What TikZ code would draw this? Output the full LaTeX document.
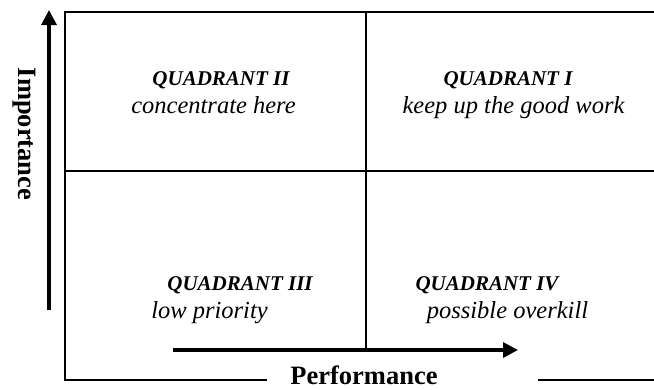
\documentclass[tikz,border=0pt]{standalone}
\usepackage{fontspec}
\setmainfont{Liberation Serif}
\usetikzlibrary{arrows.meta}

\begin{document}
\begin{tikzpicture}[x=1pt, y=-1pt]
    \tikzstyle{frame} = [line width=2.2pt]
    \tikzstyle{axis} = [line width=3.2pt, -{Triangle[width=15pt, length=15pt]}]
    \tikzstyle{title} = [anchor=base, inner sep=0pt, font=\fontsize{21}{25}\selectfont\bfseries\itshape]
    \tikzstyle{remark} = [anchor=base, inner sep=0pt, font=\fontsize{24.5}{28}\selectfont\itshape]
    \tikzstyle{axislabel} = [anchor=base, inner sep=0pt, font=\fontsize{26.5}{30}\selectfont\bfseries]
    \useasboundingbox (0,0) rectangle (654,389);

    % Corners of the grid
    \coordinate (tl) at (65,12);
    \coordinate (tr) at (654,12);
    \coordinate (bl) at (65,380);
    \coordinate (gapl) at (267,380);
    \coordinate (gapr) at (538,380);
    \coordinate (br) at (654,380);
    \coordinate (midt) at (366,12);
    \coordinate (midb) at (366,350);
    \coordinate (midl) at (65,171);
    \coordinate (midr) at (654,171);

    % Axis ends
    \coordinate (imp_start) at (49,310);
    \coordinate (imp_end) at (49,10);
    \coordinate (perf_start) at (173,350);
    \coordinate (perf_end) at (518,350);

    % Frame
    \draw [frame] (gapl) -- (bl) -- (tl) -- (tr);
    \draw [frame] (gapr) -- (br);
    \draw [frame] (midt) -- (midb);
    \draw [frame] (midl) -- (midr);

    % Axes
    \draw [axis] (imp_start) -- (imp_end);
    \draw [axis] (perf_start) -- (perf_end);

    % Axis labels
    \node [axislabel, rotate=-90] (importance) at (18,134) {Importance};
    \node [axislabel] (performance) at (364,384) {Performance};

    % Quadrant labels
    \node [title] (q2_title) at (221,85) {QUADRANT II};
    \node [remark] (q2_text) at (213.5,113) {concentrate here};
    \node [title] (q1_title) at (508,85) {QUADRANT I};
    \node [remark] (q1_text) at (513.5,113) {keep up the good work};
    \node [title] (q3_title) at (240,290) {QUADRANT III};
    \node [remark] (q3_text) at (209.5,318) {low priority};
    \node [title] (q4_title) at (487,290) {QUADRANT IV};
    \node [remark] (q4_text) at (507.5,318) {possible overkill};
\end{tikzpicture}
\end{document}
